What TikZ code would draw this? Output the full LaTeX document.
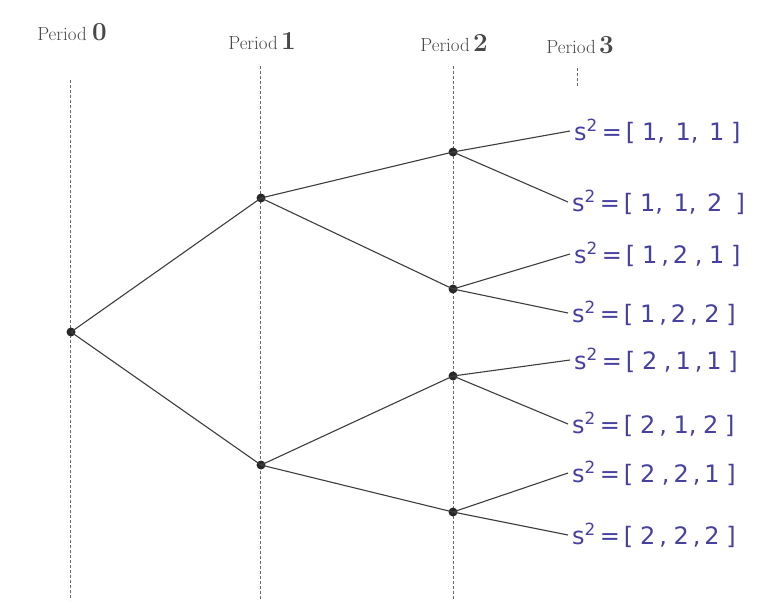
\documentclass[tikz,border=0pt]{standalone}
\usepackage{fontspec}
\newfontfamily\handfont{DejaVu Sans}
\definecolor{ink}{RGB}{70,65,160}
\definecolor{pen}{RGB}{40,40,40}
\newcommand{\sq}{s\textsuperscript{2}\,=\,}
\tikzset{
  x=1pt, y=-1pt,
  guide/.style={densely dashed, draw=pen!70, line width=0.7pt},
  branch/.style={draw=pen!90, line width=1.1pt},
  dotnode/.style={circle, fill=pen, inner sep=0pt, minimum size=9pt},
  leaf/.style={inner sep=0pt, anchor=west, text=ink, font=\handfont\fontsize{24}{26}\selectfont},
  period/.style={font=\fontsize{19}{21}\selectfont, text=pen!85, inner sep=0pt},
  digit/.style={font=\fontsize{26}{28}\selectfont\bfseries}
}
\newcommand{\pd}[1]{{\fontsize{26}{28}\selectfont\textbf{#1}}}
\begin{document}
\begin{tikzpicture}
\useasboundingbox (0,0) rectangle (762,603);
% period labels
\node[period] (p0) at (72,32) {Period\;\pd{0}};
\node[period] (p1) at (262,41) {Period\,\pd{1}};
\node[period] (p2) at (454,43) {Period\,\pd{2}};
\node[period] (p3) at (580,45) {Period\,\pd{3}};
% guide lines
\coordinate (g0a) at (70,80); \coordinate (g0b) at (70,600);
\coordinate (g1a) at (260,66); \coordinate (g1b) at (260,600);
\coordinate (g2a) at (453,66); \coordinate (g2b) at (453,600);
\coordinate (g3a) at (577,68); \coordinate (g3b) at (577,86);
\draw[guide] (g0a) -- (g0b);
\draw[guide] (g1a) -- (g1b);
\draw[guide] (g2a) -- (g2b);
\draw[guide] (g3a) -- (g3b);
% nodes
\node[dotnode] (r) at (71,332) {};
\node[dotnode] (a) at (261,198) {};
\node[dotnode] (b) at (261,465) {};
\node[dotnode] (aa) at (453,152) {};
\node[dotnode] (ab) at (453,289) {};
\node[dotnode] (ba) at (453,376) {};
\node[dotnode] (bb) at (453,512) {};
% leaf labels
\node[leaf] (l1) at (574,131) {\sq[\;1,\;\,1,\;\,1\;]};
\node[leaf] (l2) at (572,202) {\sq[\;1,\;\,1,\;\,2\;\;]};
\node[leaf] (l3) at (574,254) {\sq[\;1\,,\,2\;,\;1\;]};
\node[leaf] (l4) at (572,313) {\sq[\;1\,,\,2\,,\;2\;]};
\node[leaf] (l5) at (574,360) {\sq[\;2\;,\,1\,,\,1\;]};
\node[leaf] (l6) at (572,424) {\sq[\;2\,,\;1,\;2\;]};
\node[leaf] (l7) at (572,473) {\sq[\;2\;,\,2\,,\,1\;]};
\node[leaf] (l8) at (572,535) {\sq[\;2\,,\;2\,,\,2\;]};
% branches
\draw[branch] (r.center) -- (a.center);
\draw[branch] (r.center) -- (b.center);
\draw[branch] (a.center) -- (aa.center);
\draw[branch] (a.center) -- (ab.center);
\draw[branch] (b.center) -- (ba.center);
\draw[branch] (b.center) -- (bb.center);
\draw[branch] (aa.center) -- ([xshift=-4pt]l1.west);
\draw[branch] (aa.center) -- ([xshift=-4pt]l2.west);
\draw[branch] (ab.center) -- ([xshift=-4pt]l3.west);
\draw[branch] (ab.center) -- ([xshift=-4pt]l4.west);
\draw[branch] (ba.center) -- ([xshift=-4pt]l5.west);
\draw[branch] (ba.center) -- ([xshift=-4pt]l6.west);
\draw[branch] (bb.center) -- ([xshift=-4pt]l7.west);
\draw[branch] (bb.center) -- ([xshift=-4pt]l8.west);
\end{tikzpicture}
\end{document}
